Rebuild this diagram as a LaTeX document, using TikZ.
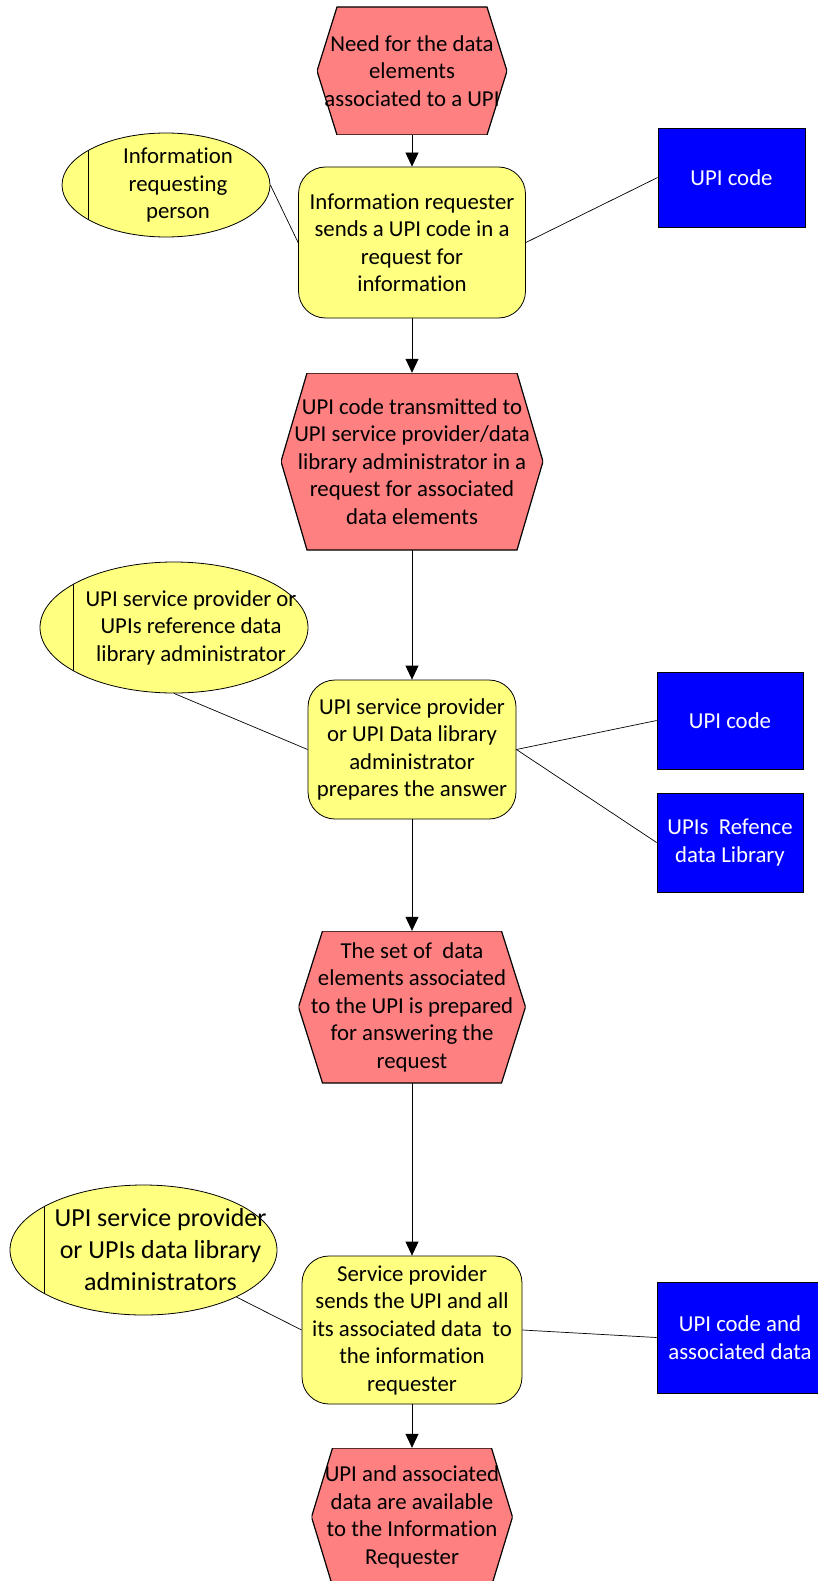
\documentclass[tikz,border=0pt]{standalone}
\usepackage{fontspec}
\setmainfont[Ligatures=NoCommon]{Carlito}
\usetikzlibrary{shapes.geometric,arrows.meta,positioning}
\definecolor{hexred}{RGB}{255,128,128}
\definecolor{boxyel}{RGB}{255,255,128}
\definecolor{upiblue}{RGB}{0,0,255}

\begin{document}
\begin{tikzpicture}[x=1pt,y=-1pt,
  every node/.style={align=center,inner sep=0pt,%
    font=\fontsize{22.8pt}{27.5pt}\selectfont},%
  e/.style={-{Triangle[length=14pt,width=13pt]},line width=0.8pt},%
  ln/.style={line width=0.7pt},%
  hx/.style n args={3}{minimum width=#1,minimum height=#2,%
    path picture={\filldraw[fill=hexred,line width=1.2pt]%
      ([xshift=#3]path picture bounding box.north west) --%
      ([xshift=-#3]path picture bounding box.north east) --%
      (path picture bounding box.east) --%
      ([xshift=-#3]path picture bounding box.south east) --%
      ([xshift=#3]path picture bounding box.south west) --%
      (path picture bounding box.west) -- cycle;}},%
  yb/.style 2 args={rectangle,rounded corners=27pt,draw,fill=boxyel,%
    line width=0.8pt,minimum width=#1,minimum height=#2},%
  el/.style n args={3}{ellipse,draw,fill=boxyel,line width=0.8pt,%
    minimum width=#1,minimum height=#2,%
    path picture={\draw[line width=0.8pt]%
      ([xshift=#3]path picture bounding box.north west) --%
      ([xshift=#3]path picture bounding box.south west);}},%
  bb/.style 2 args={rectangle,draw,fill=upiblue,text=white,%
    line width=0.8pt,minimum width=#1,minimum height=#2},%
  ]
  \useasboundingbox (0,0) rectangle (818,1581);

  \node (need) [hx={190pt}{128pt}{20pt}%
  ] at (412,71) {Need for the data\\elements\\associated to a UPI};

  \node (req) [yb={227pt}{151pt}%
  ] at (412,242.5) {Information requester\\sends a UPI code in a\\request for\\information};

  \node (trans) [hx={262pt}{177pt}{26pt}%
  ] at (412,461.5) {UPI code transmitted to\\UPI service provider/data\\library administrator in a\\request for associated\\data elements};

  \node (prep) [yb={208pt}{139pt}%
  ] at (412,749.5) {UPI service provider\\or UPI Data library\\administrator\\prepares the answer};

  \node (set) [hx={227pt}{152pt}{24pt}%
  ] at (412,1007) {The set of\ \ data\\elements associated\\to the UPI is prepared\\for answering the\\request};

  \node (send) [yb={220pt}{148pt}%
  ] at (412,1330) {Service provider\\sends the UPI and all\\its associated data\ \ to\\the information\\requester};

  \node (avail) [hx={201pt}{138pt}{21pt}%
  ] at (412,1517) {UPI and associated\\data are available\\to the Information\\Requester};

  \node (reqp) [el={208pt}{104pt}{26pt},%
    label={[xshift=12pt]center:Information\\requesting\\person}%
  ] at (166,185) {};
  \node (prov) [el={268pt}{131pt}{33.5pt},%
    label={[xshift=17pt]center:UPI service provider or\\UPIs reference data\\library administrator}%
  ] at (174,627.5) {};
  \node (adm) [el={267pt}{130pt}{34pt},%
    label={[xshift=17pt,font=\fontsize{26pt}{32pt}\selectfont]center:UPI service provider\\or UPIs data library\\administrators}%
  ] at (143.5,1250) {};

  \node (code1) [bb={147pt}{99pt}] at (731.5,177.5) {UPI code};
  \node (code2) [bb={146pt}{97pt}] at (730,720.5) {UPI code};
  \node (lib) [bb={146pt}{99pt}] at (730,842.5) {UPIs\ \ Refence\\data Library};
  \node (codedata) [bb={166pt}{111pt}] at (740,1337.5) {UPI code and\\associated data};

  \draw [e] (need) -- (req);
  \draw [e] (req) -- (trans);
  \draw [e] (trans) -- (prep);
  \draw [e] (prep) -- (set);
  \draw [e] (set) -- (send);
  \draw [e] (send) -- (avail);

  \draw [ln] (reqp.east) -- (req.west);
  \draw [ln] (req.east) -- (code1.west);
  \draw [ln] (prov.south) -- (prep.west);
  \draw [ln] (prep.east) -- (code2.west);
  \draw [ln] (prep.east) -- (lib.west);
  \draw [ln] (adm) -- (send.west);
  \draw [ln] (send.east) -- (codedata.west);
\end{tikzpicture}
\end{document}
